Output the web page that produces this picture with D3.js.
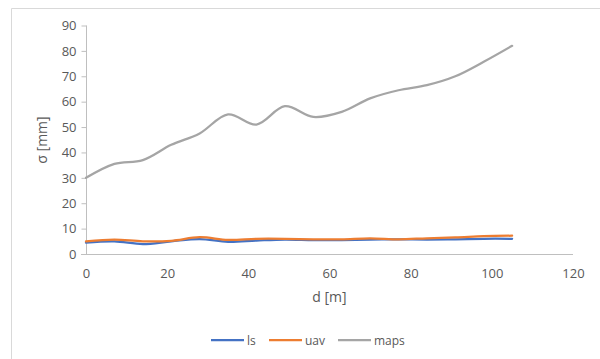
<!DOCTYPE html>
<html>
<head>
<meta charset="utf-8">
<script src="https://cdn.jsdelivr.net/npm/d3@7"></script>
<style>
  body { margin: 0; background: #fff; }
  text { font-family: "Open Sans", "Liberation Sans", sans-serif; fill: #595959; }
</style>
</head>
<body>
<div id="chart"></div>
<script>
// distances along the profile (m)
var distances = [0, 7, 14, 21, 28, 35, 42, 49, 56, 63, 70, 77, 84, 91, 98, 105];
var lsValues = [4.5, 5.0, 3.9, 5.0, 5.9, 4.8, 5.3, 5.7, 5.5, 5.5, 5.7, 5.8, 5.7, 5.8, 6.0, 6.0];
var uavValues = [5.0, 5.7, 5.0, 5.2, 6.6, 5.6, 6.0, 6.0, 5.8, 5.8, 6.2, 5.8, 6.2, 6.5, 7.0, 7.2];
var mapsValues = [30, 35.5, 37, 43, 47.5, 55, 51, 58.2, 54, 56, 61.3, 64.5, 66.5, 70, 75.7, 82];
var xTicks = [0, 20, 40, 60, 80, 100, 120];
var yTicks = [0, 10, 20, 30, 40, 50, 60, 70, 80, 90];
var seriesNames = ["ls", "uav", "maps"];
var seriesColors = ["#4472C4", "#ED7D31", "#A5A5A5"];

var svgWidth = 600;
var svgHeight = 359;

var svg = d3.select("#chart")
  .append("svg")
  .attr("width", svgWidth)
  .attr("height", svgHeight);

// chart border
svg.append("path")
  .attr("d", "M11.5,359 V8.5 H600")
  .attr("fill", "none")
  .attr("stroke", "#d9d9d9");

var xScale = d3.scaleLinear().domain([0, 120]).range([86, 573]);
var yScale = d3.scaleLinear().domain([0, 90]).range([254, 25.5]);

// y axis
var yAxis = svg.append("g")
  .attr("transform", "translate(86.5,0)")
  .call(d3.axisLeft(yScale).tickValues(yTicks).tickSize(5).tickPadding(5));
yAxis.select(".domain").attr("stroke", "#bfbfbf").attr("d", "M0," + yScale(90) + "V" + yScale(0));
yAxis.selectAll(".tick line").attr("stroke", "#bfbfbf");
yAxis.selectAll(".tick text").attr("font-size", 13).style("fill", "#595959");

// x axis
var xAxis = svg.append("g")
  .attr("transform", "translate(0," + (yScale(0) + 0.5) + ")")
  .call(d3.axisBottom(xScale).tickValues(xTicks).tickSize(0).tickPadding(14));
xAxis.select(".domain").attr("stroke", "#bfbfbf").attr("d", "M81,0H" + xScale(120));
xAxis.selectAll(".tick text").attr("font-size", 13).style("fill", "#595959");

// axis titles
svg.append("text")
  .attr("x", xScale(60))
  .attr("y", 302)
  .attr("text-anchor", "middle")
  .attr("font-size", 14)
  .text("d [m]");

svg.append("text")
  .attr("transform", "translate(47,140) rotate(-90)")
  .attr("text-anchor", "middle")
  .attr("font-size", 14)
  .text("σ [mm]");

// lines
var allSeries = [lsValues, uavValues, mapsValues];
var line = d3.line()
  .x(function(d, i) { return xScale(distances[i]); })
  .y(function(d) { return yScale(d); })
  .curve(d3.curveCatmullRom.alpha(0.5));

// maps first, then ls, then uav on top
[2, 0, 1].forEach(function(k) {
  svg.append("path")
    .datum(allSeries[k])
    .attr("d", line)
    .attr("fill", "none")
    .attr("stroke", seriesColors[k])
    .attr("stroke-width", 2.25)
    .attr("stroke-linecap", "round");
});

// legend
var legendX = [211, 269, 338];
seriesNames.forEach(function(name, k) {
  svg.append("line")
    .attr("x1", legendX[k]).attr("x2", legendX[k] + 33)
    .attr("y1", 340).attr("y2", 340)
    .attr("stroke", seriesColors[k])
    .attr("stroke-width", 2.25);
  svg.append("text")
    .attr("x", legendX[k] + 36)
    .attr("y", 344.5)
    .attr("font-size", 12)
    .text(name);
});
</script>
</body>
</html>
